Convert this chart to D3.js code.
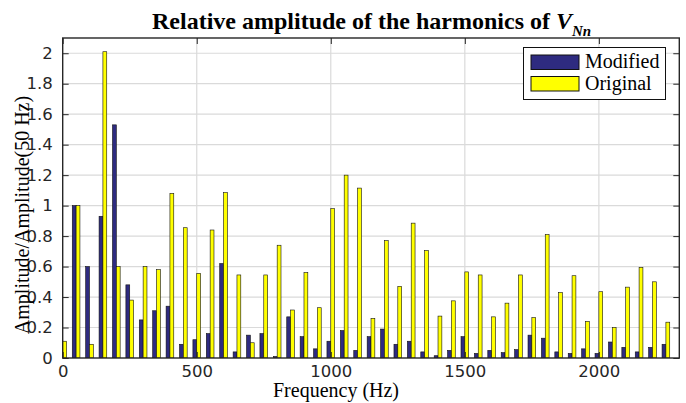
<!DOCTYPE html>
<html>
<head>
	<title>index</title>
	<meta charset="utf-8">
	<script src="https://d3js.org/d3.v7.min.js" charset="utf-8"></script>
	<style>
		body { margin:0; background:#fff; }
		svg { display:block; }
		.serif { font-family:"Liberation Serif", "Times New Roman", serif; fill:#000; }
	</style>
</head>
<body>
<script>

	// harmonic frequencies (Hz)
	var freqs = [0, 50, 100, 150, 200, 250, 300, 350, 400, 450,
		500, 550, 600, 650, 700, 750, 800, 850, 900, 950,
		1000, 1050, 1100, 1150, 1200, 1250, 1300, 1350, 1400, 1450,
		1500, 1550, 1600, 1650, 1700, 1750, 1800, 1850, 1900, 1950,
		2000, 2050, 2100, 2150, 2200, 2250];

	var modified = [0, 1.0, 0.6, 0.93, 1.53, 0.48, 0.25, 0.31, 0.34, 0.09,
		0.12, 0.16, 0.62, 0.04, 0.15, 0.16, 0.01, 0.27, 0.14, 0.06,
		0.11, 0.18, 0.05, 0.14, 0.19, 0.09, 0.11, 0.04, 0.015, 0.05,
		0.14, 0.03, 0.05, 0.035, 0.055, 0.15, 0.13, 0.04, 0.03, 0.06,
		0.03, 0.105, 0.07, 0.04, 0.07, 0.09];

	var original = [0.11, 1.0, 0.09, 2.01, 0.6, 0.38, 0.6, 0.58, 1.08, 0.855,
		0.555, 0.84, 1.085, 0.545, 0.1, 0.545, 0.74, 0.315, 0.56, 0.33,
		0.98, 1.2, 1.115, 0.26, 0.77, 0.47, 0.885, 0.705, 0.275, 0.375,
		0.565, 0.545, 0.27, 0.36, 0.545, 0.265, 0.81, 0.43, 0.54, 0.24,
		0.435, 0.2, 0.465, 0.595, 0.5, 0.235];

	var seriesNames = ["Modified", "Original"];
	var seriesColors = ["#2e2b80", "#ffff00"];

	var xTicks = [0, 500, 1000, 1500, 2000];
	var yTicks = [0, 0.2, 0.4, 0.6, 0.8, 1, 1.2, 1.4, 1.6, 1.8, 2];

	var W = 686, H = 403;
	var pLeft = 62.7, pRight = 679.3, pTop = 38, pBottom = 358;
	var groupHz = 28.6; // MATLAB grouped bar width (0.571 of 50 Hz spacing)

	var x = d3.scaleLinear().domain([0, 2300]).range([pLeft, pRight]);
	var y = d3.scaleLinear().domain([0, 2.1]).range([pBottom, pTop]);

	var svg = d3.select("body").append("svg").attr("width", W).attr("height", H);

	svg.append("defs").append("clipPath").attr("id", "plotclip")
		.append("rect").attr("x", pLeft).attr("y", pTop)
		.attr("width", pRight - pLeft).attr("height", pBottom - pTop);

	drawGrid();
	drawBars();
	drawAxes();
	drawLabels();
	drawLegend();

	function drawGrid() {
		var g = svg.append("g").attr("stroke", "#dadada").attr("stroke-width", 1.2);
		g.selectAll("line.v").data(xTicks.slice(1)).enter().append("line")
			.attr("x1", function(d) { return x(d); }).attr("x2", function(d) { return x(d); })
			.attr("y1", pTop).attr("y2", pBottom);
		g.selectAll("line.h").data(yTicks.slice(1)).enter().append("line")
			.attr("x1", pLeft).attr("x2", pRight)
			.attr("y1", function(d) { return y(d); }).attr("y2", function(d) { return y(d); });
	} // drawGrid

	function drawBars() {
		var rows = freqs.map(function(f, i) { return {f: f, values: [modified[i], original[i]]}; });
		var gw = x(groupHz) - x(0);
		var x1 = d3.scaleBand().domain(seriesNames).range([-gw / 2, gw / 2]).padding(0);

		var groups = svg.append("g").attr("clip-path", "url(#plotclip)")
			.selectAll("g").data(rows).enter().append("g")
			.attr("transform", function(d) { return "translate(" + x(d.f) + ",0)"; });

		groups.selectAll("rect")
			.data(function(d) { return d.values.map(function(v, j) { return {name: seriesNames[j], v: v, j: j}; }); })
			.enter().append("rect")
			.attr("x", function(d) { return x1(d.name); })
			.attr("width", x1.bandwidth())
			.attr("y", function(d) { return y(d.v); })
			.attr("height", function(d) { return y(0) - y(d.v); })
			.attr("fill", function(d) { return seriesColors[d.j]; })
			.attr("stroke", "#111").attr("stroke-width", 0.6);
	} // drawBars

	function styleAxis(g) {
		g.select(".domain").remove();
		g.selectAll(".tick line").attr("stroke", "#262626");
		g.selectAll(".tick text")
			.style("font-family", "'DejaVu Sans', sans-serif")
			.style("font-size", "16.5px")
			.attr("fill", "#262626");
	} // styleAxis

	function drawAxes() {
		svg.append("g").attr("transform", "translate(0," + pBottom + ")")
			.call(d3.axisBottom(x).tickValues(xTicks).tickSize(-6).tickPadding(7).tickFormat(d3.format("d")))
			.call(styleAxis);
		svg.append("g").attr("transform", "translate(" + pLeft + ",0)")
			.call(d3.axisLeft(y).tickValues(yTicks).tickSize(-6).tickPadding(10)
				.tickFormat(function(d) { return String(+d.toFixed(1)); }))
			.call(styleAxis);
		svg.append("g").attr("transform", "translate(0," + pTop + ")")
			.call(d3.axisTop(x).tickValues(xTicks).tickSize(-6).tickFormat(""))
			.call(styleAxis);
		svg.append("g").attr("transform", "translate(" + pRight + ",0)")
			.call(d3.axisRight(y).tickValues(yTicks).tickSize(-6).tickFormat(""))
			.call(styleAxis);

		svg.append("rect").attr("x", pLeft).attr("y", pTop)
			.attr("width", pRight - pLeft).attr("height", pBottom - pTop)
			.attr("fill", "none").attr("stroke", "#262626").attr("stroke-width", 1.4);
	} // drawAxes

	function drawLabels() {
		var t = svg.append("text").attr("class", "serif")
			.attr("x", 152).attr("y", 29)
			.attr("font-size", 24).attr("font-weight", "bold");
		t.append("tspan").text("Relative amplitude of the harmonics of ");
		t.append("tspan").attr("font-style", "italic").text("V");
		t.append("tspan").attr("font-style", "italic").attr("font-size", 15)
			.attr("dy", 7).text("Nn");

		svg.append("text").attr("class", "serif")
			.attr("x", 336).attr("y", 397)
			.attr("text-anchor", "middle").attr("font-size", 20)
			.text("Frequency (Hz)");

		svg.append("text").attr("class", "serif")
			.attr("transform", "translate(29,215) rotate(-90)")
			.attr("text-anchor", "middle").attr("font-size", 20)
			.text("Amplitude/Amplitude(50 Hz)");
	} // drawLabels

	function drawLegend() {
		var lg = svg.append("g");
		lg.append("rect").attr("x", 523.5).attr("y", 47.5).attr("width", 142).attr("height", 52)
			.attr("fill", "#fff").attr("stroke", "#111").attr("stroke-width", 1);
		var items = lg.selectAll("g").data(seriesNames).enter().append("g")
			.attr("transform", function(d, i) { return "translate(0," + (i * 21.5) + ")"; });
		items.append("rect").attr("x", 531).attr("y", 55).attr("width", 48).attr("height", 14.5)
			.attr("fill", function(d, i) { return seriesColors[i]; })
			.attr("stroke", "#111").attr("stroke-width", 1);
		items.append("text").attr("class", "serif")
			.attr("x", 585).attr("y", 68).attr("font-size", 20)
			.text(function(d) { return d; });
	} // drawLegend

</script>
</body>
</html>
